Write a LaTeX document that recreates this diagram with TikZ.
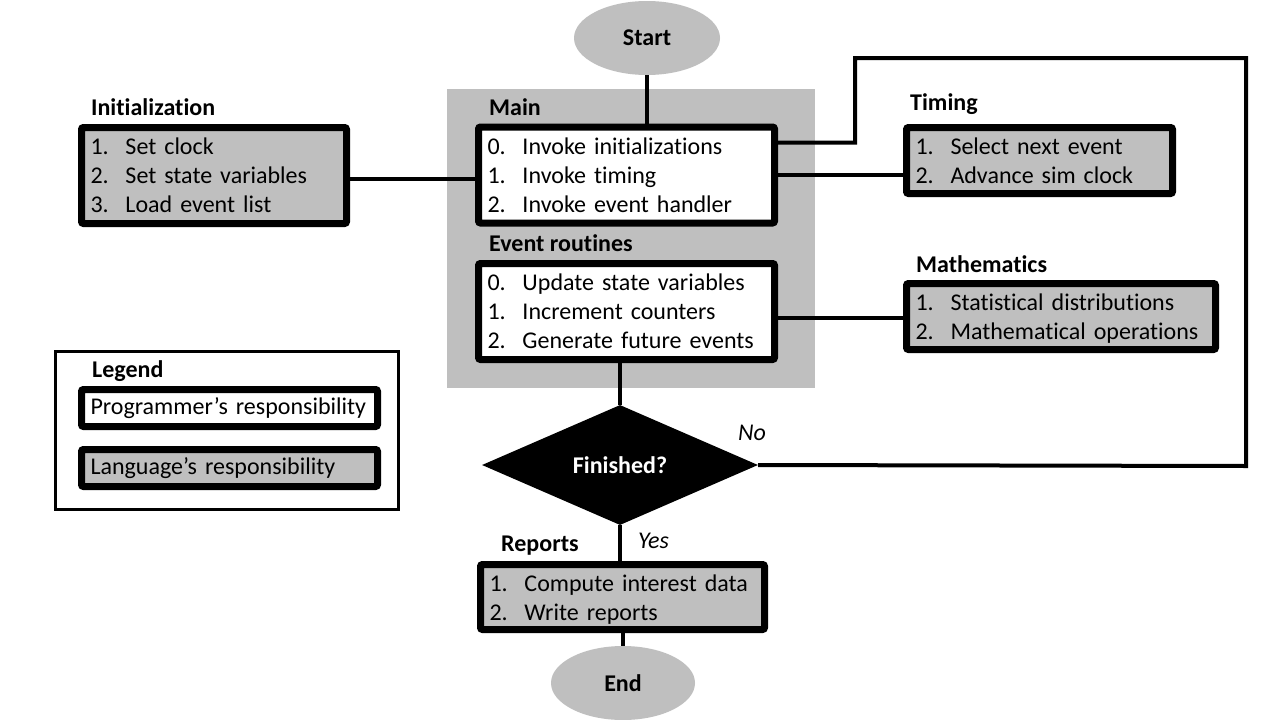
\documentclass[tikz,border=0pt]{standalone}
\usepackage{fontspec}
\setmainfont{Carlito}[Ligatures={NoCommon}]
\usetikzlibrary{shapes.geometric,calc}
\definecolor{boxgray}{HTML}{BFBFBF}
\newcommand{\itm}[2]{\makebox[35pt][l]{#1}#2}
\newcommand{\topstrut}[1]{\rule{0pt}{#1}}
\begin{document}
\begin{tikzpicture}[x=1pt,y=-1pt,
  txt/.style={font=\fontsize{24}{29}\selectfont},
  box/.style={txt,draw=black,line width=7pt,rounded corners=2pt,align=left,inner xsep=9pt,inner ysep=0pt,anchor=center},
  pbox/.style={box,fill=white},
  lbox/.style={box,fill=boxgray},
  lbl/.style={font=\fontsize{24}{28}\selectfont\bfseries,anchor=west,inner sep=0pt},
  ital/.style={font=\fontsize{24}{28}\selectfont\itshape,anchor=west,inner sep=0pt},
  conn/.style={line width=4pt},
  term/.style={ellipse,fill=boxgray,font=\fontsize{24}{28}\selectfont\bfseries,minimum width=146pt,minimum height=74pt,inner sep=0pt}
]
\useasboundingbox (0,0) rectangle (1280,720);
\fill[white] (0,0) rectangle (1280,720);

% gray area
\node[fill=boxgray,minimum width=368pt,minimum height=299pt,inner sep=0pt] (area) at (631,238.5) {};

% terminals
\node[term] (start) at (647,38) {Start};
\node[term,minimum width=144pt] (end) at (623,683) {End};

% boxes
\node[pbox,text width=278pt,minimum width=296pt,minimum height=96pt] (main) at (626.5,175)
  {\itm{0.}{Invoke initializations}\\\itm{1.}{Invoke timing}\\\itm{2.}{Invoke event handler}};
\node[pbox,text width=278pt,minimum width=296pt,minimum height=96pt] (event) at (626.5,311.5)
  {\itm{0.}{Update state variables}\\\itm{1.}{Increment counters}\\\itm{2.}{Generate future events}};
\node[lbox,text width=247pt,minimum width=265pt,minimum height=96pt] (init) at (214,175.5)
  {\itm{1.}{Set clock}\\\itm{2.}{Set state variables}\\\itm{3.}{Load event list}};
\node[lbox,text width=248pt,minimum width=266pt,minimum height=66pt] (timing) at (1039.5,160.5)
  {\itm{1.}{Select next event}\\\itm{2.}{Advance sim clock}};
\node[lbox,text width=291pt,minimum width=309pt,minimum height=66pt] (math) at (1061,316.5)
  {\topstrut{21pt}\itm{1.}{Statistical distributions}\\\itm{2.}{Mathematical operations}};
\node[lbox,text width=266pt,minimum width=284pt,minimum height=65pt] (reports) at (622.5,597)
  {\topstrut{21pt}\itm{1.}{Compute interest data}\\\itm{2.}{Write reports}};

% diamond
\node[diamond,fill=black,text=white,font=\fontsize{24}{28}\selectfont\bfseries,minimum width=276pt,minimum height=120pt,aspect=2.3,inner sep=0pt] (fin) at (620,465) {Finished?};

% labels
\node[lbl] (lmain) at (489,107) {Main};
\node[lbl] (levent) at (489,243) {Event routines};
\node[lbl] (linit) at (91,107) {Initialization};
\node[lbl] (ltiming) at (910,104) {Timing};
\node[lbl] (lmath) at (916,264) {Mathematics};
\node[lbl] (lreports) at (501,546) {Reports};
\node[ital] (no) at (738,433) {No};
\node[ital] (yes) at (638,541) {Yes};

% legend
\node[draw=black,line width=3pt,minimum width=343pt,minimum height=158pt,inner sep=0pt] (legend) at (227,430.5) {};
\node[lbl] (llegend) at (92,371) {Legend};
\node[pbox,text width=278pt,minimum width=296pt,minimum height=37pt] (prog) at (229.5,408) {Programmer’s responsibility};
\node[lbox,text width=278pt,minimum width=296pt,minimum height=37pt] (lang) at (229.5,468) {Language’s responsibility};

% connectors
\draw[conn] (start.south) -- (start.south |- main.north);
\draw[conn] ($(init.east)+(0,3)$) -- ($(init.east -| main.west)+(0,3)$);
\draw[conn] (main.east) -- (main.east -| timing.west);
\coordinate (lp1) at ($(main.north east)+(0,19)$);
\coordinate (lp2) at (855,58);
\coordinate (lp3) at (1246,58);
\coordinate (lp4) at (1246,466);
\draw[conn,line join=miter] (lp1) -- (lp1 -| lp2) -- (lp2) -- (lp3) -- (lp4) -- (fin.east);
\draw[conn] ($(event.east)+(0,6)$) -- ($(event.east -| math.west)+(0,6)$);
\draw[conn] (event.south -| fin.north) -- (fin.north);
\draw[conn] (fin.south) -- (fin.south |- reports.north);
\draw[conn] (reports.south -| end.north) -- (end.north);
\end{tikzpicture}
\end{document}
